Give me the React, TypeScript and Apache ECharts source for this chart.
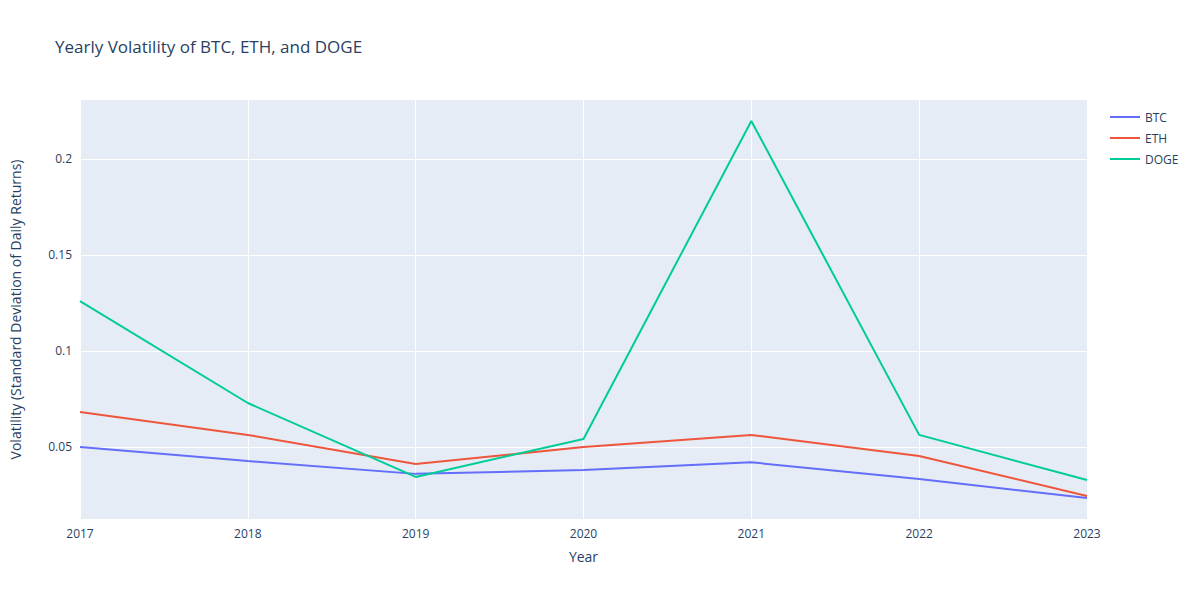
import React, { useEffect, useRef } from "react";
import * as echarts from "echarts";

const years = [2017, 2018, 2019, 2020, 2021, 2022, 2023];
const btc = [0.05, 0.0427, 0.036, 0.038, 0.042, 0.0333, 0.0234];
const eth = [0.0682, 0.0563, 0.0411, 0.05, 0.0563, 0.0453, 0.0245];
const doge = [0.126, 0.0729, 0.0344, 0.0542, 0.2198, 0.0563, 0.0328];
const yTicks = [0.05, 0.1, 0.15, 0.2];

export default function App() {
  const ref = useRef<HTMLDivElement>(null);
  useEffect(() => {
    const chart = echarts.init(ref.current!, null, { renderer: "svg" });
    const mk = (name: string, vals: number[], color: string) => ({
      name, type: "line", data: years.map((y, i) => [y, vals[i]]),
      showSymbol: false, lineStyle: { color, width: 2 }, itemStyle: { color },
    });
    chart.setOption({
      animation: false,
      textStyle: { fontFamily: "Open Sans, sans-serif", color: "#2a3f5f" },
      title: { text: "Yearly Volatility of BTC, ETH, and DOGE", left: 50, top: 33,
        textStyle: { fontSize: 17, fontWeight: "normal", color: "#2a3f5f", fontFamily: "Open Sans, sans-serif" } },
      legend: { orient: "vertical", left: 1105, top: 106, itemWidth: 30, itemHeight: 2, itemGap: 9,
        textStyle: { fontSize: 12, color: "#2a3f5f" }, icon: "rect" },
      grid: { left: 80, right: 113, top: 100, bottom: 81, show: true, backgroundColor: "#E5ECF6", borderWidth: 0 },
      xAxis: { type: "value", min: 2017, max: 2023, interval: 1, name: "Year", nameLocation: "middle", nameGap: 30,
        nameTextStyle: { fontSize: 14, color: "#2a3f5f" },
        axisLine: { show: false }, axisTick: { show: false },
        axisLabel: { color: "#2a3f5f", fontSize: 12, formatter: (v: number) => String(v) },
        splitLine: { lineStyle: { color: "#fff", width: 1 } } },
      yAxis: { type: "value", min: 0.0125, max: 0.2307, name: "Volatility (Standard Deviation of Daily Returns)",
        nameLocation: "middle", nameGap: 58, nameTextStyle: { fontSize: 14, color: "#2a3f5f" },
        axisLine: { show: false }, axisTick: { show: false, customValues: yTicks },
        axisLabel: { color: "#2a3f5f", fontSize: 12, customValues: yTicks, formatter: (v: number) => String(+v.toFixed(3)) },
        splitLine: { lineStyle: { color: "#fff", width: 1 } } },
      series: [mk("BTC", btc, "#636efa"), mk("ETH", eth, "#EF553B"), mk("DOGE", doge, "#00cc96")],
    });
    return () => chart.dispose();
  }, []);
  return <div ref={ref} style={{ width: 1200, height: 600, position: "absolute", left: 0, top: 0 }} />;
}
